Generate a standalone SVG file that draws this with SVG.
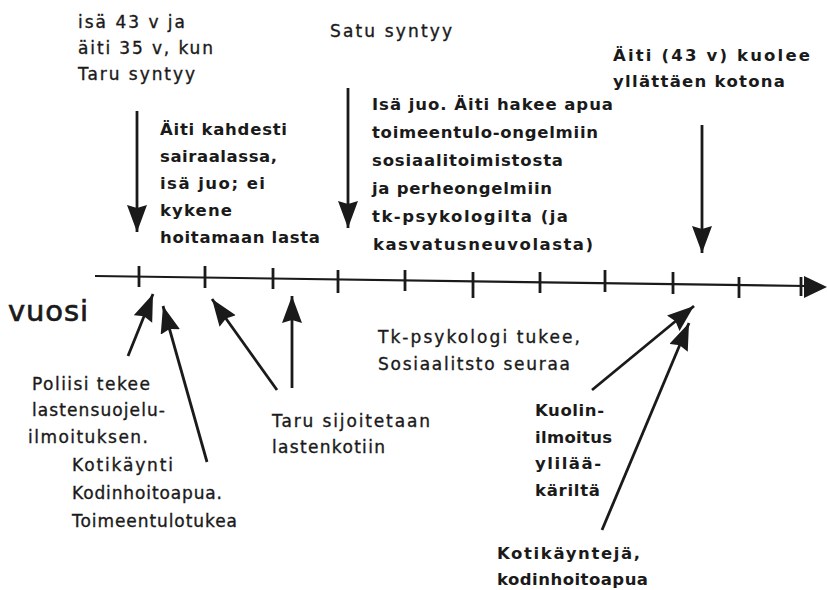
<svg xmlns="http://www.w3.org/2000/svg" width="827" height="590" viewBox="0 0 827 590">
<defs>
<marker id="ah" markerUnits="userSpaceOnUse" markerWidth="30" markerHeight="24" refX="27" refY="10" orient="auto">
<path d="M0,0 L27,10 L0,20 L3,10 Z" fill="#1a1a1a"/>
</marker>
<style>
.t{font-family:"DejaVu Sans","Liberation Sans",sans-serif;font-size:17px;fill:#1a1a1a;stroke:#1a1a1a;stroke-width:0.35}
.b{font-weight:bold;font-size:16.5px;stroke-width:0}
.c{stroke:#1a1a1a;stroke-width:2.8;fill:none}
.tk{stroke:#1a1a1a;stroke-width:2.8}
</style>
</defs>
<rect width="827" height="590" fill="#ffffff"/>
<g id="axis">
<line x1="95" y1="276" x2="806" y2="286" stroke="#1a1a1a" stroke-width="2.2"/>
<line x1="139" y1="266" x2="139" y2="287" class="tk"/>
<line x1="205" y1="266" x2="205" y2="288" class="tk"/>
<line x1="273" y1="268" x2="273" y2="289" class="tk"/>
<line x1="338" y1="270" x2="338" y2="293" class="tk"/>
<line x1="405" y1="270" x2="405" y2="291" class="tk"/>
<line x1="473" y1="272" x2="473" y2="298" class="tk"/>
<line x1="540" y1="272" x2="540" y2="293" class="tk"/>
<line x1="605" y1="270" x2="605" y2="292" class="tk"/>
<line x1="673" y1="272" x2="673" y2="294" class="tk"/>
<line x1="739" y1="277" x2="739" y2="298" class="tk"/>
<line x1="801" y1="277" x2="801" y2="296" class="tk"/>
<path d="M804,276 L827,287 L804,298 Z" fill="#1a1a1a"/>
<text x="8" y="321" class="t" style="font-size:29px;stroke-width:0.7" textLength="80" lengthAdjust="spacing">vuosi</text>
</g>
<g id="connectors">
<line x1="137" y1="111" x2="137" y2="232" class="c" marker-end="url(#ah)"/>
<line x1="348" y1="88" x2="348" y2="228" class="c" marker-end="url(#ah)"/>
<line x1="702" y1="125" x2="702" y2="253" class="c" marker-end="url(#ah)"/>
<line x1="128" y1="356" x2="153" y2="294" class="c" marker-end="url(#ah)"/>
<line x1="207" y1="462" x2="163" y2="306" class="c" marker-end="url(#ah)"/>
<line x1="277" y1="390" x2="212" y2="299" class="c" marker-end="url(#ah)"/>
<line x1="292" y1="388" x2="292" y2="296" class="c" marker-end="url(#ah)"/>
<line x1="592" y1="390" x2="694" y2="306" class="c" marker-end="url(#ah)"/>
<line x1="602" y1="530" x2="689" y2="323" class="c" marker-end="url(#ah)"/>
</g>
<g id="n1">
<text class="t" x="78" y="28" textLength="107" lengthAdjust="spacing">isä 43 v ja</text>
<text class="t" x="78" y="54" textLength="135" lengthAdjust="spacing">äiti 35 v, kun</text>
<text class="t" x="78" y="80" textLength="117" lengthAdjust="spacing">Taru syntyy</text>
</g>
<g id="n2"><text class="t" x="330" y="37" textLength="122" lengthAdjust="spacing">Satu syntyy</text></g>
<g id="n3">
<text class="t b" x="613" y="61" textLength="197" lengthAdjust="spacing">Äiti (43 v) kuolee</text>
<text class="t b" x="613" y="87" textLength="172" lengthAdjust="spacing">yllättäen kotona</text>
</g>
<g id="n4">
<text class="t b" x="160" y="135" textLength="127" lengthAdjust="spacing">Äiti kahdesti</text>
<text class="t b" x="160" y="162" textLength="117" lengthAdjust="spacing">sairaalassa,</text>
<text class="t b" x="160" y="189" textLength="105" lengthAdjust="spacing">isä juo; ei</text>
<text class="t b" x="160" y="216" textLength="72" lengthAdjust="spacing">kykene</text>
<text class="t b" x="160" y="243" textLength="160" lengthAdjust="spacing">hoitamaan lasta</text>
</g>
<g id="n5">
<text class="t b" x="372" y="110" textLength="241" lengthAdjust="spacing">Isä juo. Äiti hakee apua</text>
<text class="t b" x="372" y="138" textLength="226" lengthAdjust="spacing">toimeentulo-ongelmiin</text>
<text class="t b" x="372" y="166" textLength="191" lengthAdjust="spacing">sosiaalitoimistosta</text>
<text class="t b" x="372" y="194" textLength="180" lengthAdjust="spacing">ja perheongelmiin</text>
<text class="t b" x="372" y="222" textLength="196" lengthAdjust="spacing">tk-psykologilta (ja</text>
<text class="t b" x="373" y="250" textLength="220" lengthAdjust="spacing">kasvatusneuvolasta)</text>
</g>
<g id="n6">
<text class="t" x="378" y="343" textLength="202" lengthAdjust="spacing">Tk-psykologi tukee,</text>
<text class="t" x="378" y="370" textLength="192" lengthAdjust="spacing">Sosiaalitsto seuraa</text>
</g>
<g id="n7">
<text class="t" x="32" y="390" textLength="118" lengthAdjust="spacing">Poliisi tekee</text>
<text class="t" x="32" y="416" textLength="133" lengthAdjust="spacing">lastensuojelu-</text>
<text class="t" x="28" y="443" textLength="120" lengthAdjust="spacing">ilmoituksen.</text>
<text class="t" x="72" y="471" textLength="101" lengthAdjust="spacing">Kotikäynti</text>
<text class="t" x="72" y="499" textLength="150" lengthAdjust="spacing">Kodinhoitoapua.</text>
<text class="t" x="72" y="527" textLength="165" lengthAdjust="spacing">Toimeentulotukea</text>
</g>
<g id="n8">
<text class="t" x="272" y="427" textLength="158" lengthAdjust="spacing">Taru sijoitetaan</text>
<text class="t" x="272" y="453" textLength="113" lengthAdjust="spacing">lastenkotiin</text>
</g>
<g id="n9">
<text class="t b" x="535" y="416" textLength="69" lengthAdjust="spacing">Kuolin-</text>
<text class="t b" x="535" y="443" textLength="77" lengthAdjust="spacing">ilmoitus</text>
<text class="t b" x="535" y="469" textLength="66" lengthAdjust="spacing">ylilää-</text>
<text class="t b" x="535" y="496" textLength="65" lengthAdjust="spacing">käriltä</text>
</g>
<g id="n10">
<text class="t b" x="497" y="559" textLength="143" lengthAdjust="spacing">Kotikäyntejä,</text>
<text class="t b" x="497" y="585" textLength="151" lengthAdjust="spacing">kodinhoitoapua</text>
</g>
</svg>
